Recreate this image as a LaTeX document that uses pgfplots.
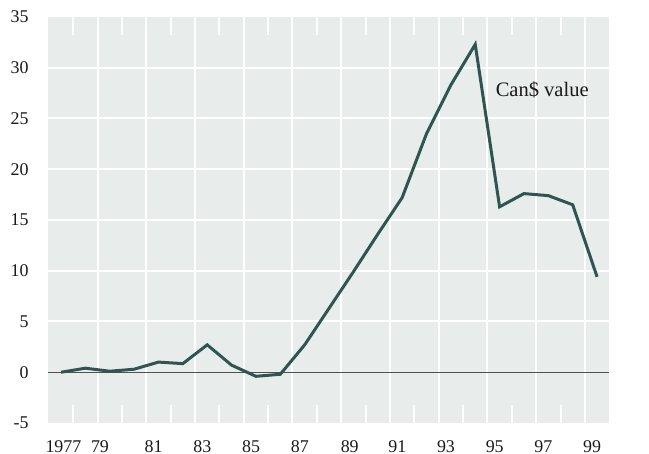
\documentclass[border=0pt]{standalone}
\usepackage{pgfplots}
\pgfplotsset{compat=1.18}
\usepackage{fontspec}
\setmainfont{Liberation Serif}
\definecolor{bg}{HTML}{E8ECEB}
\definecolor{ln}{HTML}{2E5550}
\definecolor{zl}{HTML}{505050}
\pgfplotstableread{
year val
1977 0.0
1978 0.4
1979 0.1
1980 0.3
1981 1.0
1982 0.85
1983 2.7
1984 0.7
1985 -0.4
1986 -0.2
1987 2.7
1988 6.3
1989 9.9
1990 13.6
1991 17.2
1992 23.5
1993 28.3
1994 32.3
1995 16.3
1996 17.6
1997 17.4
1998 16.5
1999 9.4
}\datatable
\begin{document}
\begin{tikzpicture}
\path (-24bp,-15.5bp) rectangle (300.5bp,211.5bp);
\begin{axis}[
 at={(0,0)}, anchor=south west, scale only axis, width=280.5bp, height=203bp,
 xmin=1976.466, xmax=1999.49, ymin=-5, ymax=35,
 axis line style={draw=none},
 axis background/.style={fill=bg},
 tick label style={font=\fontsize{9}{10}\selectfont, text=black!90},
 xtick={1977.1,1978.6,1980.8,1982.8,1984.8,1986.8,1988.85,1990.8,1992.8,1994.8,1996.8,1998.8},
 xticklabels={1977,79,81,83,85,87,89,91,93,95,97,99},
 xticklabel style={anchor=north, inner sep=0pt, yshift=-8.5bp},
 ytick={-5,0,5,10,15,20,25,30,35},
 yticklabels={-5,0,5,10,15,20,25,30,35},
 yticklabel style={anchor=east, inner sep=0pt, xshift=-9.5bp},
 major tick length=0pt,
 minor xtick={1977.5,1979.5,1981.5,1983.5,1985.5,1987.5,1989.5,1991.5,1993.5,1995.5,1997.5},
 minor tick length=9bp,
 minor tick style={white, line width=1bp},
 xtick pos=both, ytick pos=left,
 tick align=inside,
 extra x ticks={1978.5,1980.5,1982.5,1984.5,1986.5,1988.5,1990.5,1992.5,1994.5,1996.5,1998.5},
 extra x tick labels={},
 extra x tick style={grid=major, major grid style={white, line width=1bp}, major tick length=0pt},
 extra y ticks={5,10,15,20,25,30},
 extra y tick labels={},
 extra y tick style={grid=major, major grid style={white, line width=1bp}, major tick length=0pt},
 clip=false,
]
\addplot[zl, line width=0.6bp, forget plot] coordinates {(1976.466,0) (1999.49,0)};
\addplot[ln, line width=1.5bp] table[x=year, y=val] {\datatable};
\node[font=\fontsize{10.3}{12}\selectfont, text=black!90] at (axis cs:1996.75,27.85) {Can\$ value};
\end{axis}
\begin{axis}[
 at={(0,0)}, anchor=south west, scale only axis, width=280.5bp, height=203bp,
 xmin=1976.466, xmax=1999.49, ymin=-5, ymax=35,
 axis lines=none,
 xtick=\empty,
 ytick={-5,0,5,10,15,20,25,30,35},
 yticklabels={-5,0,5,10,15,20,25,30,35},
 yticklabel pos=right,
 major tick length=0pt,
 tick label style={font=\fontsize{9}{10}\selectfont, text=black!90},
 yticklabel style={anchor=west, inner sep=0pt, xshift=8.5bp},
]
\end{axis}
\end{tikzpicture}
\end{document}
